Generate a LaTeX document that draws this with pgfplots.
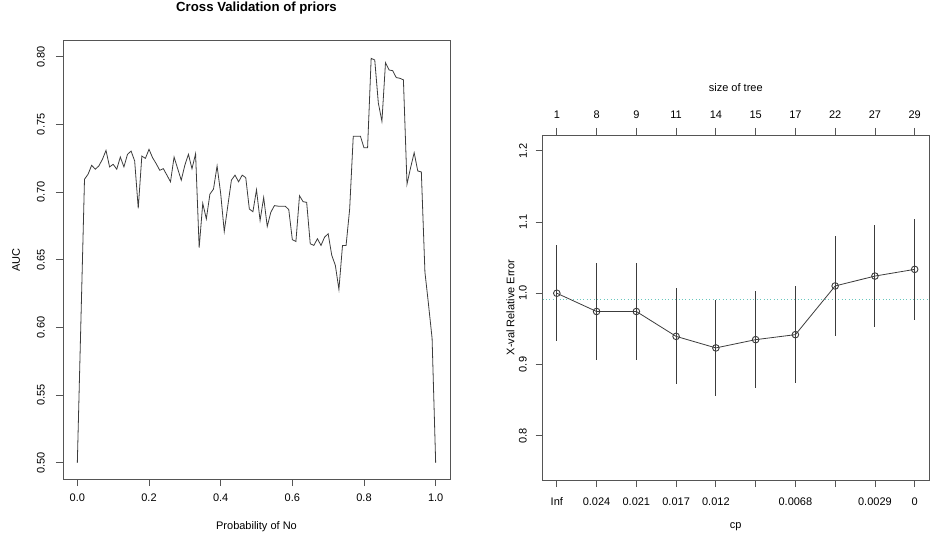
\documentclass[border=0pt]{standalone}
\usepackage{fontspec}
\setmainfont{Liberation Sans}
\usepackage{pgfplots}
\usepackage{pgfplotstable}
\pgfplotsset{compat=1.18}
\definecolor{rline}{RGB}{60,60,60}
\definecolor{rbox}{RGB}{85,85,85}
\definecolor{minline}{RGB}{105,200,190}

\pgfplotstableread{
p auc
0.00 0.500
0.02 0.7095
0.03 0.7132
0.04 0.7198
0.05 0.7169
0.06 0.7193
0.07 0.7242
0.08 0.7308
0.09 0.7186
0.10 0.7205
0.11 0.7169
0.12 0.7259
0.13 0.7186
0.14 0.7279
0.15 0.7303
0.16 0.7230
0.17 0.6880
0.18 0.7266
0.19 0.7249
0.20 0.7316
0.21 0.7254
0.22 0.7210
0.23 0.7161
0.24 0.7173
0.25 0.7125
0.26 0.7076
0.27 0.7259
0.28 0.7173
0.29 0.7088
0.30 0.7198
0.31 0.7279
0.32 0.7173
0.33 0.7283
0.34 0.6589
0.35 0.6917
0.36 0.6802
0.37 0.6985
0.38 0.7022
0.39 0.7193
0.40 0.6990
0.41 0.6709
0.42 0.6900
0.43 0.7088
0.44 0.7125
0.45 0.7076
0.46 0.7125
0.47 0.7107
0.48 0.6875
0.49 0.6855
0.50 0.7017
0.51 0.6790
0.52 0.6960
0.53 0.6746
0.54 0.6851
0.55 0.6900
0.56 0.6896
0.57 0.6896
0.58 0.6896
0.59 0.6871
0.60 0.6648
0.61 0.6635
0.62 0.6973
0.63 0.6929
0.64 0.6924
0.65 0.6618
0.66 0.6606
0.67 0.6655
0.68 0.6606
0.69 0.6667
0.70 0.6692
0.71 0.6533
0.72 0.6459
0.73 0.6281
0.74 0.6606
0.75 0.6606
0.76 0.6875
0.77 0.7413
0.78 0.7413
0.79 0.7413
0.80 0.7327
0.81 0.7327
0.82 0.7988
0.83 0.7976
0.84 0.7658
0.85 0.7523
0.86 0.7956
0.87 0.7902
0.88 0.7897
0.89 0.7846
0.90 0.7841
0.91 0.7829
0.92 0.7059
0.93 0.7180
0.94 0.7291
0.95 0.7156
0.96 0.7149
0.97 0.6410
0.98 0.6170
0.99 0.5920
1.00 0.5000
}\aucdata

\pgfplotstableread{
x y e
1 1.0000 0.0674
2 0.9744 0.0678
3 0.9744 0.0678
4 0.9395 0.0675
5 0.9233 0.0674
6 0.9349 0.0678
7 0.9419 0.0683
8 1.0102 0.0705
9 1.0241 0.0714
10 1.0335 0.0709
}\cpdata

\pgfplotsset{
  rstyle/.style={
    scale only axis,
    axis line style={rbox, line width=0.8bp},
    tick align=outside,
    major tick length=7bp,
    tick style={rbox, line width=0.8bp},
    xtick pos=left, ytick pos=left,
    tick label style={font=\fontsize{11bp}{13bp}\selectfont, inner sep=0pt},
    label style={font=\fontsize{11bp}{13bp}\selectfont},
    /pgf/number format/assume math mode=true,
    clip=false,
  }
}

\begin{document}
\begin{tikzpicture}
\path[use as bounding box] (0,0) rectangle (932bp,538bp);

% Left plot
\begin{axis}[rstyle,
  at={(63bp,59bp)}, anchor=south west,
  width=387bp, height=438.5bp,
  xmin=-0.04, xmax=1.04, ymin=0.488, ymax=0.812,
  xtick={0,0.2,0.4,0.6,0.8,1.0},
  ytick={0.50,0.55,0.60,0.65,0.70,0.75,0.80},
  xticklabel style={anchor=north, /pgf/number format/.cd, fixed, fixed zerofill, precision=1},
  yticklabel style={rotate=90, anchor=south, /pgf/number format/.cd, fixed, fixed zerofill, precision=2},
  xticklabel shift=8bp,
  yticklabel shift=11bp,
  title={Cross Validation of priors},
  title style={font=\fontsize{13.2bp}{15bp}\selectfont\bfseries, at={(axis description cs:0.5,1.0604)}, anchor=center},
  xlabel={Probability of No},
  ylabel={AUC},
  xlabel style={at={(axis description cs:0.5,-0.1095)}, anchor=center},
  ylabel style={at={(axis description cs:-0.1214,0.5)}, anchor=center},
]
\addplot[rline, line width=0.8bp, mark=none] table[x=p, y=auc] {\aucdata};
\end{axis}

% Right plot
\begin{axis}[rstyle,
  at={(542.5bp,58bp)}, anchor=south west,
  width=386.5bp, height=345bp,
  xmin=0.64, xmax=10.36, ymin=0.738, ymax=1.222,
  xtick={1,2,3,4,5,6,7,8,9,10},
  xticklabels={Inf,0.024,0.021,0.017,0.012,{},0.0068,{},0.0029,0},
  ytick={0.8,0.9,1.0,1.1,1.2},
  xticklabel style={anchor=north},
  yticklabel style={rotate=90, anchor=south, /pgf/number format/.cd, fixed, fixed zerofill, precision=1},
  xticklabel shift=10.5bp,
  yticklabel shift=8.5bp,
  xlabel={cp},
  ylabel={X-val Relative Error},
  xlabel style={at={(axis description cs:0.5,-0.1362)}, anchor=center},
  ylabel style={at={(axis description cs:-0.0828,0.5)}, anchor=center},
]
\addplot[minline, line width=1.1bp, dash pattern=on 1.1bp off 2.3bp, mark=none] coordinates {(0.64,0.9907) (10.36,0.9907)};
\addplot[rline, line width=0.8bp, mark=o, mark size=3.3bp, mark options={solid, line width=0.9bp},
  error bars/.cd, y dir=both, y explicit, error mark=none, error bar style={rline, line width=0.9bp}]
  table[x=x, y=y, y error=e] {\cpdata};
\end{axis}

% Right plot top axis (size of tree)
\begin{axis}[rstyle,
  at={(542.5bp,58bp)}, anchor=south west,
  width=386.5bp, height=345bp,
  xmin=0.64, xmax=10.36, ymin=0.738, ymax=1.222,
  axis x line*=top, axis y line=none,
  xtick pos=right,
  xtick={1,2,3,4,5,6,7,8,9,10},
  xticklabels={1,8,9,11,14,15,17,22,27,29},
  xticklabel pos=right,
  xticklabel style={anchor=south},
  xticklabel shift=9bp,
  xlabel={size of tree},
  xlabel style={at={(axis description cs:0.5,1.138)}, anchor=center},
]
\addplot[draw=none, mark=none] coordinates {(1,1) (10,1)};
\end{axis}
\end{tikzpicture}
\end{document}
